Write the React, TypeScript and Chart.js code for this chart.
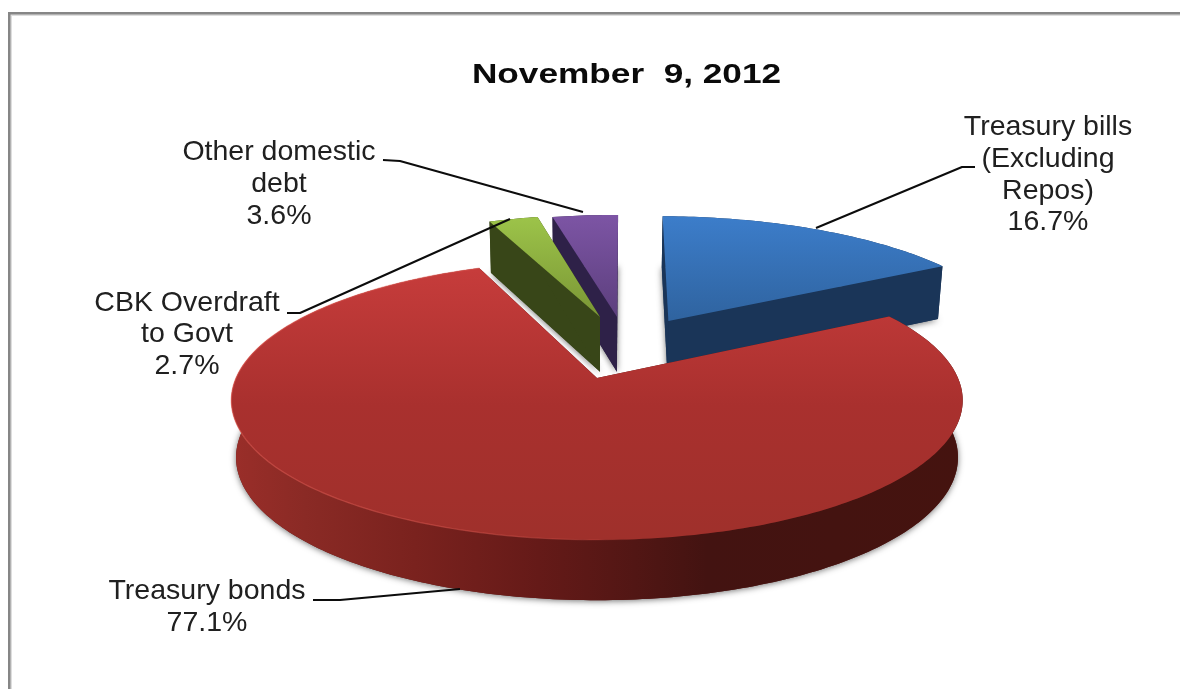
import React, { useEffect, useRef } from "react";
import { Chart, registerables } from "chart.js";

Chart.register(...registerables);

// Share of domestic debt, in percent.
const categories = ["Treasury bills (Excluding Repos)", "Treasury bonds", "CBK Overdraft to Govt", "Other domestic debt"];
const shares = [16.7, 77.1, 2.7, 3.6];
const chartTitle = "November  9, 2012";

// Wrapped label text per slice; the percentage line is appended from the shares.
const labelLines = [
  ["Treasury bills", "(Excluding", "Repos)"],
  ["Treasury bonds"],
  ["CBK Overdraft", "to Govt"],
  ["Other domestic", "debt"],
];
const labelCentres = [
  [1048, 127.5],
  [207, 591.5],
  [187, 303],
  [279, 152.5],
];
const leaderPaths = [
  [[975, 167], [962, 167], [816, 228]],
  [[313, 600], [340, 600], [460, 589]],
  [[287, 313], [300, 313], [510, 219]],
  [[383, 160], [400, 161], [583, 212]],
];

// Slice separation and radius on the pie plane (unit radius), and the face colours.
const sliceOffsets = [
  [0.212, -0.449],
  [0, 0],
  [0.009, -0.483],
  [0.06, -0.483],
];
const sliceRadii = [1.02, 1, 1, 1];
const topGradients = [
  [217, 321, ["#3c7dca", "#2f639f"]],
  [270, 540, ["#c63c3b", "#a9302e", "#9f302b"]],
  [218, 317, ["#9cc349", "#7a9635"]],
  [214, 317, ["#7d55a5", "#5c3f7d"]],
];
const sideColours = ["#1a3558", "#5a1815", "#384618", "#2e2148"];
const drawOrder = [3, 2, 0, 1];

// Tilted-plane projection of the pie.
const CX = 597;
const CY = 378;
const RX = 361;
const RY = 136;
const TILT = 0.16;

const project = (u: number, v: number) => {
  const w = 1 - TILT * v;
  return [CX + (RX * u) / w, CY + (RY * v) / w];
};
const projectBase = (u: number, v: number) => {
  const [x, y] = project(u, v);
  return [CX + (x - CX) * 0.987, y + 56.5 + 3.8 * v];
};

const tracePath = (ctx: CanvasRenderingContext2D, pts: number[][]) => {
  ctx.beginPath();
  pts.forEach((p, i) => (i ? ctx.lineTo(p[0], p[1]) : ctx.moveTo(p[0], p[1])));
  ctx.closePath();
};

const perspectivePie = {
  id: "perspectivePie",
  beforeDraw(chart: any) {
    const ctx = chart.ctx as CanvasRenderingContext2D;
    ctx.save();
    ctx.fillStyle = "#ffffff";
    ctx.fillRect(0, 0, 1180, 689);
    ctx.fillStyle = "#dedede";
    ctx.fillRect(10, 14, 1170, 2);
    ctx.fillRect(10, 14, 2, 675);
    ctx.fillStyle = "#868686";
    ctx.fillRect(8, 12, 1172, 2.5);
    ctx.fillRect(8, 12, 2.5, 677);
    ctx.restore();
  },
  beforeDatasetsDraw(chart: any) {
    const ctx = chart.ctx as CanvasRenderingContext2D;
    const arcs = chart.getDatasetMeta(0).data;

    drawOrder.forEach((i) => {
      const { startAngle, endAngle } = arcs[i].getProps(["startAngle", "endAngle"], true);
      const [ou, ov] = sliceOffsets[i];
      const radius = sliceRadii[i];
      const steps = Math.max(8, Math.round(((endAngle - startAngle) * 180) / Math.PI));
      const plane: number[][] = [];
      for (let s = 0; s <= steps; s++) {
        const a = startAngle + ((endAngle - startAngle) * s) / steps;
        plane.push([ou + radius * Math.cos(a), ov + radius * Math.sin(a)]);
      }
      const rim = plane.map(([u, v]) => project(u, v));
      const baseRim = plane.map(([u, v]) => projectBase(u, v));
      const apex = project(ou, ov);
      const baseApex = projectBase(ou, ov);

      // Base outline casts the soft shadow around the slice.
      ctx.save();
      ctx.shadowColor = "rgba(0,0,0,0.55)";
      ctx.shadowBlur = 6;
      ctx.shadowOffsetY = 1;
      ctx.fillStyle = sideColours[i];
      tracePath(ctx, [baseApex, ...baseRim]);
      ctx.fill();
      ctx.restore();

      // Outer wall.
      let wall: string | CanvasGradient = sideColours[i];
      if (i === 1) {
        const g = ctx.createLinearGradient(232, 0, 963, 0);
        g.addColorStop(0, "#9a2e29");
        g.addColorStop(0.1, "#8a2a25");
        g.addColorStop(0.25, "#7a221e");
        g.addColorStop(0.42, "#651a18");
        g.addColorStop(0.65, "#431311");
        g.addColorStop(1, "#45130f");
        wall = g;
      }
      ctx.fillStyle = wall;
      tracePath(ctx, [...rim, ...[...baseRim].reverse()]);
      ctx.fill();

      // Radial cut faces.
      ctx.fillStyle = sideColours[i];
      tracePath(ctx, [apex, rim[0], baseRim[0], baseApex]);
      ctx.fill();
      tracePath(ctx, [apex, rim[steps], baseRim[steps], baseApex]);
      ctx.fill();

      // Top surface.
      const [y0, y1, stops] = topGradients[i] as [number, number, string[]];
      const grad = ctx.createLinearGradient(0, y0, 0, y1);
      stops.forEach((c, k) => grad.addColorStop(k / (stops.length - 1), c));
      ctx.fillStyle = grad;
      tracePath(ctx, [apex, ...rim]);
      ctx.fill();

      // Bevel highlight along the near rim of the large slice.
      if (i === 1) {
        const hl = ctx.createLinearGradient(232, 0, 640, 0);
        hl.addColorStop(0, "rgba(226,92,84,0.6)");
        hl.addColorStop(0.7, "rgba(226,92,84,0.4)");
        hl.addColorStop(1, "rgba(226,92,84,0)");
        ctx.strokeStyle = hl;
        ctx.lineWidth = 1.2;
        ctx.beginPath();
        rim.forEach((p, k) => (k ? ctx.lineTo(p[0], p[1]) : ctx.moveTo(p[0], p[1])));
        ctx.stroke();
      }
    });
    return false;
  },
  afterDraw(chart: any) {
    const ctx = chart.ctx as CanvasRenderingContext2D;
    ctx.save();

    ctx.strokeStyle = "#0c0c0c";
    ctx.lineWidth = 2;
    ctx.lineJoin = "round";
    leaderPaths.forEach((path) => {
      ctx.beginPath();
      path.forEach((p, i) => (i ? ctx.lineTo(p[0], p[1]) : ctx.moveTo(p[0], p[1])));
      ctx.stroke();
    });

    ctx.textAlign = "center";
    ctx.textBaseline = "middle";
    ctx.fillStyle = "#202020";
    ctx.font = '28.5px "Liberation Sans"';
    categories.forEach((_, i) => {
      const lines = [...labelLines[i], `${shares[i].toFixed(1)}%`];
      lines.forEach((line, k) => {
        ctx.fillText(line, labelCentres[i][0], labelCentres[i][1] + k * 31.6);
      });
    });

    // The heading is set wide.
    ctx.fillStyle = "#0a0a0a";
    ctx.font = 'bold 27.5px "Liberation Sans"';
    ctx.translate(626.5, 75.5);
    ctx.scale(1.28, 1);
    ctx.fillText(chartTitle, 0, 0);
    ctx.restore();
  },
};

export default function App() {
  const ref = useRef<HTMLCanvasElement>(null);
  useEffect(() => {
    const chart = new Chart(ref.current as HTMLCanvasElement, {
      type: "pie",
      data: {
        labels: categories,
        datasets: [{ data: shares, borderWidth: 0 }],
      },
      options: {
        responsive: false,
        animation: false,
        rotation: 0.7,
        plugins: { legend: { display: false }, tooltip: { enabled: false }, title: { display: false } },
      },
      plugins: [perspectivePie],
    });
    return () => chart.destroy();
  }, []);
  return (
    <div style={{ position: "fixed", left: 0, top: 0, width: 1180, height: 689 }}>
      <canvas ref={ref} width={1180} height={689} style={{ display: "block" }} />
    </div>
  );
}
